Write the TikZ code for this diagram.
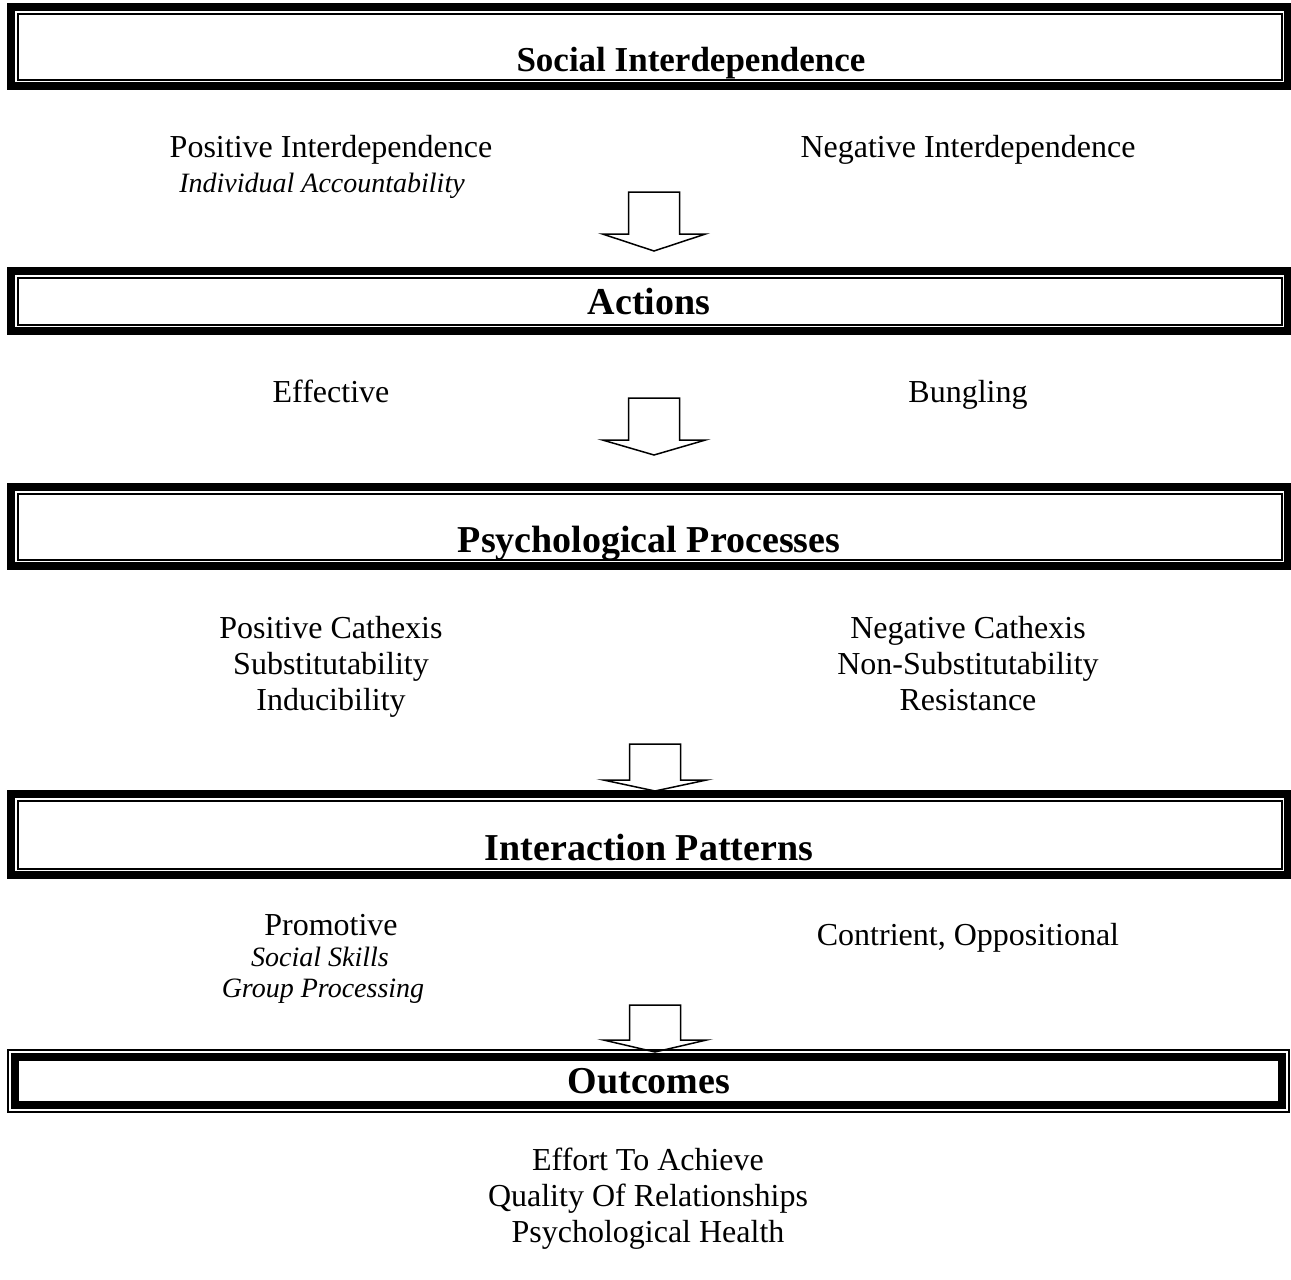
\documentclass[tikz,border=0pt]{standalone}
\usepackage{fontspec}
\setmainfont{Liberation Serif}
\usetikzlibrary{calc}
\begin{document}
\begin{tikzpicture}[x=0.5pt,y=-0.5pt,
  title/.style={font=\fontsize{19}{22}\selectfont\bfseries, inner sep=0pt, anchor=base},
  body/.style={font=\fontsize{16}{18}\selectfont, inner sep=0pt, anchor=base},
  note/.style={font=\fontsize{14}{16}\selectfont\itshape, inner sep=0pt, anchor=base},
  thickframe/.style={line width=4pt},
  thinframe/.style={line width=1pt},
  blockarrow/.style={line width=0.75pt, fill=white, line join=miter}]
\useasboundingbox (0,0) rectangle (1291,1280);

% framed heading bars: outer thick border with a thin rule inside
\newcommand{\framebar}[3]{%
  \coordinate (#1-nw) at (11,#2);
  \coordinate (#1-se) at (1288,#3);
  \draw[thickframe] (#1-nw) rectangle (#1-se);
  \draw[thinframe] ($(#1-nw)+(6.5,6.5)$) rectangle ($(#1-se)+(-6.5,-6.5)$);
}
% the same bar with the thin rule outside and the thick border inside
\newcommand{\framebarrev}[3]{%
  \coordinate (#1-nw) at (8,#2);
  \coordinate (#1-se) at (1289,#3);
  \draw[thinframe] (#1-nw) rectangle (#1-se);
  \draw[thickframe] ($(#1-nw)+(7,7)$) rectangle ($(#1-se)+(-7,-7)$);
}
% hollow down arrow: centre x, shaft top, shoulder, tip
\newcommand{\hollowarrow}[4]{%
  \draw[blockarrow] (#1-25.5,#2) -- (#1+25.5,#2) -- (#1+25.5,#3) -- (#1+51.5,#3)
    -- (#1,#4) -- (#1-51.5,#3) -- (#1-25.5,#3) -- cycle;
}

\framebar{b1}{7}{86}
\node[title, font=\fontsize{17.5}{21}\selectfont\bfseries] (social) at (691,71) {Social Interdependence};

\node[body] (posint) at (331,157) {Positive Interdependence};
\node[note] (indacc) at (322,192) {Individual Accountability};
\node[body] (negint) at (968,157) {Negative Interdependence};

\hollowarrow{654}{192}{234}{251}

\framebar{b2}{271}{331}
\node[title] (actions) at (649,314) {Actions};

\node[body] (effective) at (331,402) {Effective};
\node[body] (bungling) at (968,402) {Bungling};

\hollowarrow{654}{398}{440}{455}

\framebar{b3}{487}{566}
\node[title] (psych) at (649,552) {Psychological Processes};

\node[body] (poscat) at (331,638) {Positive Cathexis};
\node[body] (possub) at (331,674) {Substitutability};
\node[body] (posind) at (331,710) {Inducibility};
\node[body] (negcat) at (968,638) {Negative Cathexis};
\node[body] (negsub) at (968,674) {Non-Substitutability};
\node[body] (negres) at (968,710) {Resistance};

\hollowarrow{655}{744}{780}{791}

\framebar{b4}{794}{875}
\node[title] (interact) at (649,860) {Interaction Patterns};

\node[body] (promotive) at (331,935) {Promotive};
\node[note] (skills) at (320,966) {Social Skills};
\node[note] (groupproc) at (323,997) {Group Processing};
\node[body] (contrient) at (968,945) {Contrient, Oppositional};

\hollowarrow{655}{1005}{1040}{1052}

\framebarrev{b5}{1050}{1112}
\node[title] (outcomes) at (649,1093) {Outcomes};

\node[body] (effort) at (648,1170) {Effort To Achieve};
\node[body] (quality) at (648,1206) {Quality Of Relationships};
\node[body] (health) at (648,1242) {Psychological Health};
\end{tikzpicture}
\end{document}
